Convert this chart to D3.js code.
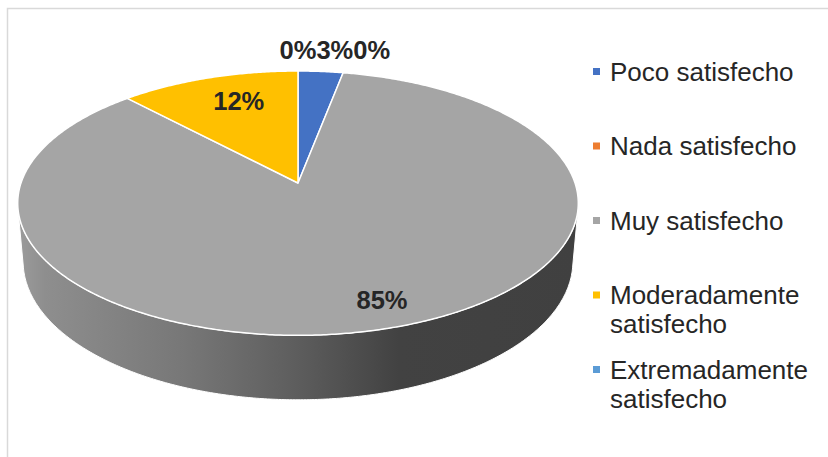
<!DOCTYPE html>
<html><head><meta charset="utf-8">
<script src="https://cdn.jsdelivr.net/npm/d3@7"></script>
<style>html,body{margin:0;padding:0;background:#fff;} svg{display:block;}</style>
</head><body>
<svg id="chart" width="828" height="457"></svg>
<script>
const categories = ["Poco satisfecho","Nada satisfecho","Muy satisfecho","Moderadamente satisfecho","Extremadamente satisfecho"];
const values = [3, 0, 85, 12, 0];
const percentLabels = ["3%","0%","85%","12%","0%"];
const colors = ["#4472c4","#ed7d31","#a5a5a5","#ffc000","#5b9bd5"];

const W = 828, H = 457;
const FONT = "'Liberation Sans', Arial, Helvetica, sans-serif";
const svg = d3.select("#chart");
const color = d3.scaleOrdinal().domain(categories).range(colors);

// chart border
svg.append("rect").attr("x",7.5).attr("y",8.5).attr("width",W).attr("height",H)
  .attr("fill","#fff").attr("stroke","#d9d9d9").attr("stroke-width",1.5);

// simple perspective projection of a tilted disk
const cx = 298, cy = 183, S = 277, sinP = 0.466, cosP = Math.sqrt(1 - sinP*sinP), Dv = 5.8, thick = 0.24;
function proj(X, Y, Z){
  const dc = Z*cosP + Y*sinP;
  const sc = Dv/(Dv - dc);
  return [cx + X*S*sc, cy + (Z*sinP - Y*cosP)*S*sc];
}
function rim(a, r, Y){ return proj(r*Math.sin(a), Y, -r*Math.cos(a)); }
function arcPts(a0, a1, r, Y){
  const n = Math.max(2, Math.ceil(Math.abs(a1-a0)/(Math.PI/360)));
  return d3.range(n+1).map(i => rim(a0 + (a1-a0)*i/n, r, Y));
}
const line = d3.line();

const arcs = d3.pie().sort(null).startAngle(0).endAngle(2*Math.PI)(values);

// side gradient
const defs = svg.append("defs");
const grad = defs.append("linearGradient").attr("id","sideGrad")
  .attr("gradientUnits","userSpaceOnUse").attr("x1",17).attr("x2",578).attr("y1",0).attr("y2",0);
[[0,"#9c9c9c"],[0.05,"#8e8e8e"],[0.3,"#777777"],[0.5,"#5d5d5d"],[0.68,"#424242"],[1,"#404040"]]
  .forEach(([o,c]) => grad.append("stop").attr("offset",o).attr("stop-color",c));

// visible front wall range
const aR = Math.acos(-1/(Dv*cosP)), aL = 2*Math.PI - aR;
const gSide = svg.append("g");
arcs.forEach((d,i) => {
  const lo = Math.max(d.startAngle, aR), hi = Math.min(d.endAngle, aL);
  if (hi <= lo) return;
  const pts = arcPts(lo, hi, 1, 0).concat(arcPts(hi, lo, 1, -thick));
  gSide.append("path").attr("d", line(pts) + "Z")
    .attr("fill", categories[i] === "Muy satisfecho" ? "url(#sideGrad)" : d3.color(color(categories[i])).darker(0.8))
    .attr("stroke","#ffffff").attr("stroke-width",1).attr("stroke-linejoin","round");
});

// top faces
const gTop = svg.append("g");
arcs.forEach((d,i) => {
  if (d.endAngle - d.startAngle <= 0) return;
  const pts = [proj(0,0,0)].concat(arcPts(d.startAngle, d.endAngle, 1, 0));
  gTop.append("path").attr("d", line(pts) + "Z")
    .attr("fill", color(categories[i]))
    .attr("stroke","#ffffff").attr("stroke-width",1.5).attr("stroke-linejoin","round");
});

// data labels
const gLab = svg.append("g").attr("font-family",FONT).attr("font-weight","bold")
  .attr("font-size","25.5px").attr("fill","#262626").attr("text-anchor","middle");
const inDx = 14, inDy = 4.5;
const outside = [];
arcs.forEach((d,i) => {
  const mid = (d.startAngle + d.endAngle)/2;
  if (values[i] >= 5) {
    const p = rim(mid, 0.8, 0);
    gLab.append("text").attr("x",p[0] + inDx).attr("y",p[1] + inDy).attr("dy","0.35em").text(percentLabels[i]);
  } else {
    const a = mid >= 2*Math.PI - 1e-9 ? 0 : mid;
    outside.push({i, p: rim(a, 1.22, 0)});
  }
});
outside.sort((a,b) => a.p[0] - b.p[0]);
let prevRight = -Infinity, rowY = null;
outside.forEach(o => {
  const t = gLab.append("text").attr("dy","0.35em").text(percentLabels[o.i]);
  const w = t.node().getComputedTextLength();
  let x = o.p[0];
  if (x - w/2 < prevRight) x = prevRight + w/2;
  if (rowY === null) rowY = o.p[1];
  t.attr("x", x).attr("y", rowY);
  prevRight = x + w/2;
});

// legend
const gLeg = svg.append("g").attr("font-family",FONT).attr("font-size","26px").attr("fill","#262626");
const legX = 593, legTextX = 610, legY0 = 80.5, legStep = 74.5, lineH = 29, maxW = 212;
categories.forEach((c,i) => {
  const y = legY0 + i*legStep;
  gLeg.append("rect").attr("x",legX).attr("y",y-12.5).attr("width",7).attr("height",7).attr("fill",color(c));
  const t = gLeg.append("text").attr("x",legTextX).attr("y",y);
  const words = c.split(" ");
  let lineWords = [], tspan = t.append("tspan").attr("x",legTextX).attr("y",y), ln = 0;
  words.forEach(wd => {
    lineWords.push(wd);
    tspan.text(lineWords.join(" "));
    if (tspan.node().getComputedTextLength() > maxW && lineWords.length > 1) {
      lineWords.pop();
      tspan.text(lineWords.join(" "));
      lineWords = [wd];
      ln++;
      tspan = t.append("tspan").attr("x",legTextX).attr("y",y + ln*lineH).text(wd);
    }
  });
});
</script>
</body></html>
